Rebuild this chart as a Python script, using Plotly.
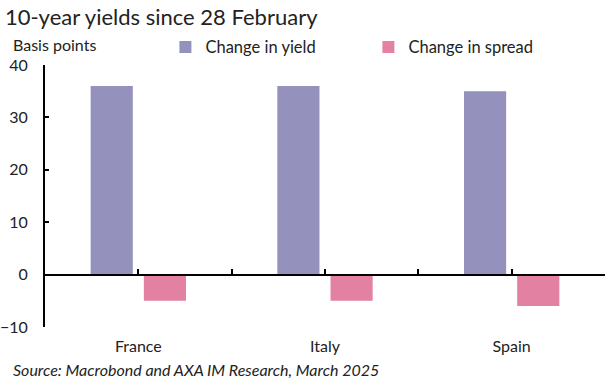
import plotly.graph_objects as go

categories = ["France", "Italy", "Spain"]
change_in_yield = [36, 36, 35]
change_in_spread = [-5, -5, -6]
y_ticks = [-10, 0, 10, 20, 30, 40]

FONT = "Lato"
TXT = "#222222"
fig = go.Figure()
fig.add_trace(go.Bar(x=categories, y=change_in_yield, name="Change in yield",
                     marker=dict(color="#9591BD", line=dict(width=0))))
fig.add_trace(go.Bar(x=categories, y=change_in_spread, name="Change in spread",
                     marker=dict(color="#E381A2", line=dict(width=0))))

# invisible helper trace for the zero-level tick axis
fig.add_trace(go.Scatter(x=[-0.5, 2.5], y=[0, 0], xaxis="x2", mode="lines",
                         line=dict(width=0), showlegend=False, hoverinfo="skip"))

fig.update_layout(
    width=615, height=379,
    margin=dict(l=45, r=10, t=65, b=52, autoexpand=False),
    paper_bgcolor="white", plot_bgcolor="white",
    barmode="group", bargap=0.43, bargroupgap=0.2075,
    font=dict(family=FONT, size=16, color=TXT),
    title=dict(text="10-year yields since 28 February", x=0.008, xanchor="left",
               y=0.955, yanchor="middle", font=dict(family=FONT, size=22, color=TXT)),
    showlegend=True,
    legend=dict(orientation="h", x=0.215, y=1.068, xanchor="left", yanchor="middle",
                font=dict(family=FONT, size=16.5, color=TXT),
                itemwidth=30, traceorder="normal",
                entrywidth=158, bgcolor="rgba(0,0,0,0)"),
    xaxis=dict(type="category", range=[-0.5, 2.5], showline=False, ticks="",
               showgrid=False, zeroline=False, ticklabelstandoff=8, automargin=False,
               tickfont=dict(family=FONT, size=16, color=TXT)),
    xaxis2=dict(overlaying="x", anchor="free", position=0.2, side="bottom",
                range=[-0.5, 2.5], showline=True, linecolor="black", linewidth=2,
                ticks="inside", ticklen=5, tickwidth=1.5, tickcolor="black",
                tick0=-0.5, dtick=0.5, showticklabels=False, showgrid=False,
                zeroline=False, automargin=False),
    yaxis=dict(range=[-10, 40], tickvals=y_ticks, showline=True, linecolor="black",
               linewidth=2, ticks="inside", ticklen=4, tickwidth=1.5, tickcolor="black",
               showgrid=False, zeroline=False, ticklabelstandoff=12, automargin=False,
               tickfont=dict(family=FONT, size=16, color=TXT)),
    annotations=[
        dict(text="Basis points", xref="paper", yref="paper", x=-0.061, y=1.08,
             xanchor="left", yanchor="middle", showarrow=False,
             font=dict(family=FONT, size=16, color=TXT)),
        dict(text="<i>Source: Macrobond and AXA IM Research, March 2025</i>",
             xref="paper", yref="paper", x=-0.061, y=-0.163, xanchor="left",
             yanchor="middle", showarrow=False,
             font=dict(family=FONT, size=16, color=TXT)),
    ],
)

fig.write_html("out.html", post_script="document.body.style.margin='0';",
               config={"displayModeBar": False})
